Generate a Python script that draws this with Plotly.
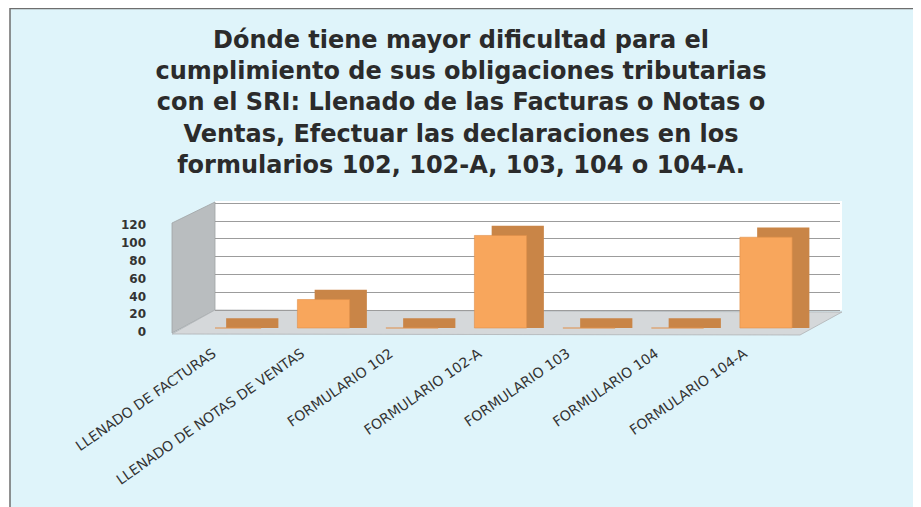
import plotly.graph_objects as go

categories = ["LLENADO DE FACTURAS", "LLENADO DE NOTAS DE VENTAS", "FORMULARIO 102",
              "FORMULARIO 102-A", "FORMULARIO 103", "FORMULARIO 104", "FORMULARIO 104-A"]
values = [0, 32, 0, 104, 0, 0, 102]
y_ticks = [0, 20, 40, 60, 80, 100, 120]

title_text = ("Dónde tiene mayor dificultad para el<br>"
              "cumplimiento de sus obligaciones tributarias<br>"
              "con el SRI: Llenado de las Facturas o Notas o<br>"
              "Ventas, Efectuar las declaraciones en los<br>"
              "formularios 102, 102-A, 103, 104 o 104-A.")

# page body has an 8px margin: the figure origin sits at (8, 8) in the window
OX, OY = 8, 8
W, H = 913, 499
depth = 11.0          # 3D depth of the bars, in value units
shift_units = 20.2    # back wall offset vs front plane
label_shift = 4.5     # tick labels on the left wall front edge

def px_x(p):
    return (p - OX) / W

def px_y(p):
    return 1 - (p - OY) / H

fig = go.Figure()

# back/top/side of bars (3D effect)
fig.add_trace(go.Bar(
    x=categories, y=[v + depth for v in values], base=0,
    offset=-0.10, width=0.59,
    marker=dict(color="#C98547", line=dict(width=0)),
    hoverinfo="skip", showlegend=False, yaxis="y"))
# front faces
fig.add_trace(go.Bar(
    x=categories, y=values, base=0,
    offset=-0.295, width=0.59,
    marker=dict(color="#F8A65C", line=dict(color="#E0904A", width=0.6)),
    showlegend=False, yaxis="y"))
# invisible traces for the back-wall grid axis and the label axis
fig.add_trace(go.Scatter(
    x=categories, y=values, mode="markers", marker=dict(opacity=0),
    hoverinfo="skip", showlegend=False, yaxis="y2"))
fig.add_trace(go.Scatter(
    x=categories, y=values, mode="markers", marker=dict(opacity=0),
    hoverinfo="skip", showlegend=False, yaxis="y3"))

bg = "#DFF4FA"
shapes = [
    # page background with scanned border
    dict(type="rect", xref="paper", yref="paper", x0=px_x(10), x1=1.02, y0=-0.02, y1=px_y(8.5),
         fillcolor=bg, line=dict(color="#6E6E6E", width=1.5), layer="below"),
    # back wall
    dict(type="rect", xref="paper", yref="paper", x0=px_x(215), x1=px_x(842),
         y0=px_y(310), y1=px_y(201), fillcolor="white", line=dict(width=0), layer="below"),
    # left wall
    dict(type="path", xref="paper", yref="paper",
         path=f"M {px_x(172)},{px_y(223)} L {px_x(215)},{px_y(202)} L {px_x(215)},{px_y(310)} L {px_x(172)},{px_y(333)} Z",
         fillcolor="#B9BDBF", line=dict(color="#9FA3A5", width=0.8), layer="below"),
    # floor
    dict(type="path", xref="paper", yref="paper",
         path=f"M {px_x(172)},{px_y(334)} L {px_x(215)},{px_y(310)} L {px_x(842)},{px_y(312)} L {px_x(800)},{px_y(335)} Z",
         fillcolor="#D5D8DA", line=dict(color="#B0B3B5", width=0.8), layer="below"),
]

y_bottom_px, y_top_px, zero_px, ppu = 334, 201, 328, 0.89
y_range = [(zero_px - y_bottom_px) / ppu, (zero_px - y_top_px) / ppu]

fig.update_layout(
    width=W, height=H,
    margin=dict(l=0, r=0, t=0, b=0, pad=0, autoexpand=False),
    paper_bgcolor="white",
    plot_bgcolor="rgba(0,0,0,0)",
    barmode="overlay",
    shapes=shapes,
    title=dict(text=title_text, x=px_x(461), xanchor="center", y=px_y(48), yanchor="top",
               xref="paper", yref="paper", automargin=False,
               font=dict(family="DejaVu Sans", size=24, color="#2B2B2B", weight="bold")),
    xaxis=dict(domain=[px_x(215), px_x(840)], range=[-0.226, 6.836], automargin=False,
               showgrid=False, showline=False, zeroline=False,
               tickangle=-35, ticks="", ticklabelstandoff=8, ticklabelshift=-22,
               tickfont=dict(family="DejaVu Sans", size=14, color="#333333")),
    yaxis=dict(domain=[px_y(y_bottom_px), px_y(y_top_px)], range=y_range, automargin=False,
               showticklabels=False, showgrid=False, zeroline=False, showline=False, ticks=""),
    yaxis2=dict(overlaying="y", range=[y_range[0] - shift_units, y_range[1] - shift_units],
                automargin=False,
                tickvals=y_ticks, showticklabels=False, showgrid=True,
                gridcolor="#9C9C9C", gridwidth=1, zeroline=False, showline=False),
    yaxis3=dict(overlaying="y", range=[y_range[0] + label_shift, y_range[1] + label_shift],
                automargin=False, side="left",
                tickvals=y_ticks, ticktext=[str(t) for t in y_ticks],
                showgrid=False, zeroline=False, showline=False, ticks="",
                ticklabelstandoff=68,
                tickfont=dict(family="DejaVu Sans", size=12, color="#333333", weight="bold")),
)

fig.write_html("out.html")
